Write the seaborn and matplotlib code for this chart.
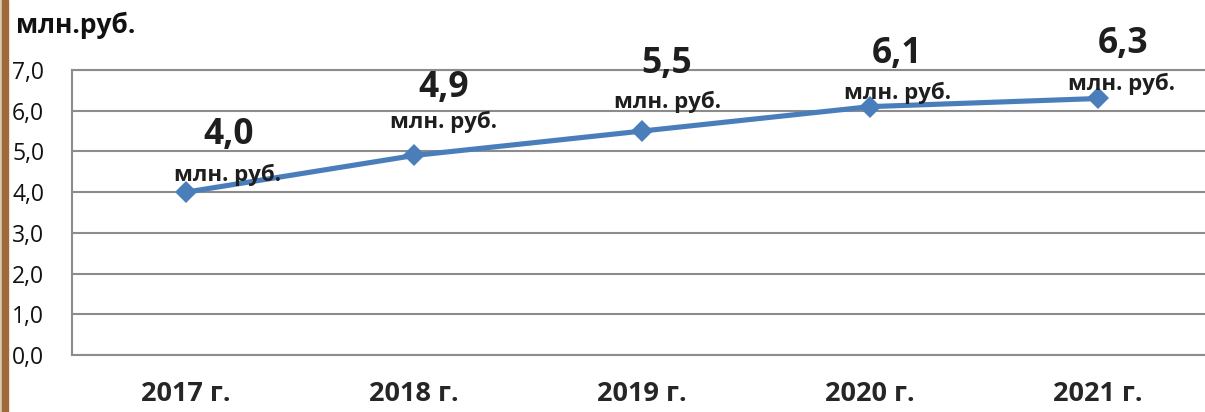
import matplotlib.pyplot as plt
import seaborn as sns
import pandas as pd
from matplotlib.patches import Rectangle

# --- data ---
years = ['2017 г.', '2018 г.', '2019 г.', '2020 г.', '2021 г.']
values = [4.0, 4.9, 5.5, 6.1, 6.3]
value_labels = ['4,0', '4,9', '5,5', '6,1', '6,3']
unit = 'млн. руб.'
y_ticks = [0, 1, 2, 3, 4, 5, 6, 7]
y_tick_labels = ['0,0', '1,0', '2,0', '3,0', '4,0', '5,0', '6,0', '7,0']

# label offsets in pixels (placed by hand in the original)
unit_offsets = [(42, 11), (29, 27), (26, 23), (27, 8), (24, 8)]
value_offsets = [(43, 48), (30, 58), (25, 58), (27, 44), (25, 45)]

sns.set_style('white')
plt.rcParams['font.family'] = ['Open Sans', 'DejaVu Sans']

df = pd.DataFrame({'year': years, 'value': values})

W, H = 1205, 412
fig = plt.figure(figsize=(W / 100, H / 100), dpi=100)
ax = fig.add_axes([72 / W, 57 / H, 1140 / W, 285 / H])

sns.lineplot(
    data=df, x='year', y='value', ax=ax,
    color='#4A7EBB', lw=3.7,
    marker='D', markersize=11.5, markeredgewidth=0,
    sort=False,
)

ax.set_ylim(0, 7)
ax.set_xlim(-0.5, 4.5)
ax.set_yticks(y_ticks)
ax.set_yticklabels(y_tick_labels)
ax.yaxis.grid(True, color='#8c8c8c', lw=1.5)
ax.set_axisbelow(True)
for side in ['left', 'bottom', 'top']:
    ax.spines[side].set_color('#8c8c8c')
    ax.spines[side].set_linewidth(1.5)
ax.spines['right'].set_visible(False)

ax.tick_params(axis='y', length=0, pad=20, labelsize=16.5, labelcolor='#111111')
ax.tick_params(axis='x', length=0, pad=19, labelsize=19.5)
for lbl in ax.get_xticklabels():
    lbl.set_fontweight('bold')
ax.set_xlabel('')
ax.set_ylabel('')

# --- data labels ---
for i, (v, txt) in enumerate(zip(values, value_labels)):
    ax.annotate(unit, (i, v), xytext=unit_offsets[i], textcoords='offset pixels',
                ha='center', va='baseline', fontsize=16, fontweight='bold',
                color='#1e1e1e', annotation_clip=False)
    ax.annotate(txt, (i, v), xytext=value_offsets[i], textcoords='offset pixels',
                ha='center', va='baseline', fontsize=25.5, fontweight='bold',
                color='#1e1e1e', annotation_clip=False)

fig.text(16 / W, 1 - 25 / H, 'млн.руб.', fontsize=19, fontweight='bold',
         va='center', ha='left', color='#111111')

# slide frame on the left edge
fig.patches.append(Rectangle((0, 0), 2 / W, 1, transform=fig.transFigure,
                             color='#d9ccb4', zorder=10))
fig.patches.append(Rectangle((2 / W, 0), 6 / W, 1, transform=fig.transFigure,
                             color='#a0693a', zorder=10))

fig.savefig('out.png', dpi=100)
